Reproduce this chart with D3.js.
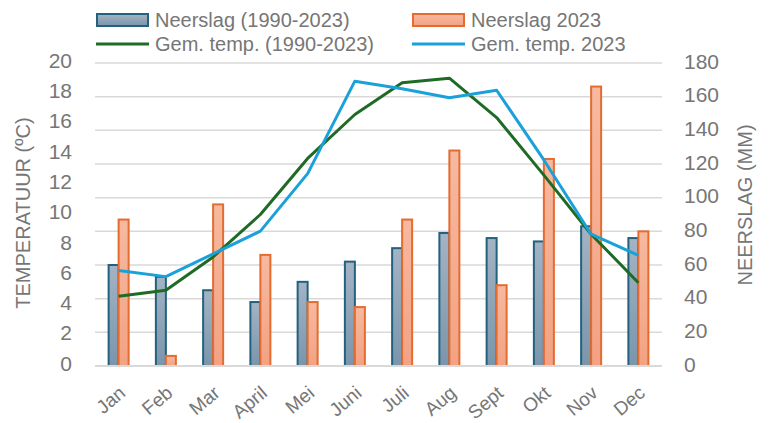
<!DOCTYPE html>
<html>
<head>
<meta charset="utf-8">
<script src="https://cdn.jsdelivr.net/npm/d3@7"></script>
<style>
  body { margin: 0; background: #fff; }
  text { font-family: "Liberation Sans", Arial, sans-serif; }
</style>
</head>
<body>
<div id="plot"></div>
<script>
// Data
const months = ["Jan", "Feb", "Mar", "April", "Mei", "Juni", "Juli", "Aug", "Sept", "Okt", "Nov", "Dec"];
const rainAvg = [60, 53, 45, 38, 50, 62, 70, 79, 76, 74, 83, 76];
const rain2023 = [87, 6, 96, 66, 38, 35, 87, 128, 48, 123, 166, 80];
const tempAvg = [4.6, 5.0, 7.2, 10.0, 13.7, 16.6, 18.7, 19.0, 16.4, 12.6, 8.7, 5.5];
const temp2023 = [6.3, 5.9, 7.4, 8.9, 12.7, 18.8, 18.3, 17.7, 18.2, 13.6, 8.7, 7.3];
const tempTicks = [0, 2, 4, 6, 8, 10, 12, 14, 16, 18, 20];
const rainTicks = [0, 20, 40, 60, 80, 100, 120, 140, 160, 180];

const W = 769, H = 423;
const margin = { top: 63, right: 107, bottom: 57, left: 95 };
const width = W - margin.left - margin.right,
      height = H - margin.top - margin.bottom;

const svg = d3.select("#plot").append("svg")
  .attr("width", W)
  .attr("height", H);

const defs = svg.append("defs");
const gBlue = defs.append("linearGradient").attr("id", "gBlue").attr("x1", 0).attr("y1", 0).attr("x2", 0).attr("y2", 1);
gBlue.append("stop").attr("offset", "0%").attr("stop-color", "#a3b4c4");
gBlue.append("stop").attr("offset", "100%").attr("stop-color", "#7a95ab");
const gOrange = defs.append("linearGradient").attr("id", "gOrange").attr("x1", 0).attr("y1", 0).attr("x2", 0).attr("y2", 1);
gOrange.append("stop").attr("offset", "0%").attr("stop-color", "#f6b9a0");
gOrange.append("stop").attr("offset", "100%").attr("stop-color", "#f3a283");

const plot = svg.append("g")
  .attr("transform", `translate(${margin.left}, ${margin.top})`);

// Scales
const x = d3.scaleBand().domain(months).range([0, width]);
const yT = d3.scaleLinear().domain([0, 20]).range([height, 0]);
const yR = d3.scaleLinear().domain([0, 180]).range([height, 0]);
const barW = 10;

// Gridlines (right axis)
plot.append("g")
  .selectAll("line")
  .data(rainTicks)
  .join("line")
  .attr("x1", 0).attr("x2", width)
  .attr("y1", d => yR(d)).attr("y2", d => yR(d))
  .attr("stroke", "#d9d9d9")
  .attr("stroke-width", 1.5);

// Left axis
const axL = plot.append("g")
  .call(d3.axisLeft(yT).tickValues(tempTicks).tickSize(0).tickPadding(23));
axL.select(".domain").remove();
axL.selectAll("text").attr("fill", "#767676").attr("dy", "0.2em").style("font-size", "21px");

// Right axis
const axR = plot.append("g")
  .attr("transform", `translate(${width}, 0)`)
  .call(d3.axisRight(yR).tickValues(rainTicks).tickSize(0).tickPadding(22));
axR.select(".domain").remove();
axR.selectAll("text").attr("fill", "#767676").attr("dy", "0.25em").style("font-size", "21px");

// Bars
plot.append("g").selectAll("rect")
  .data(months)
  .join("rect")
  .attr("x", (d, i) => x(d) + x.bandwidth() / 2 - barW)
  .attr("y", (d, i) => yR(rainAvg[i]))
  .attr("width", barW)
  .attr("height", (d, i) => height - yR(rainAvg[i]))
  .attr("fill", "url(#gBlue)")
  .attr("stroke", "#23617f")
  .attr("stroke-width", 2);

plot.append("g").selectAll("rect")
  .data(months)
  .join("rect")
  .attr("x", (d, i) => x(d) + x.bandwidth() / 2)
  .attr("y", (d, i) => yR(rain2023[i]))
  .attr("width", barW)
  .attr("height", (d, i) => height - yR(rain2023[i]))
  .attr("fill", "url(#gOrange)")
  .attr("stroke", "#e46c2f")
  .attr("stroke-width", 2);

// Bottom axis line
plot.append("line")
  .attr("x1", 0).attr("x2", width)
  .attr("y1", height).attr("y2", height)
  .attr("stroke", "#d9d9d9").attr("stroke-width", 2);

// Lines
const line = arr => d3.line()
  .x((d, i) => x(months[i]) + x.bandwidth() / 2)
  .y(d => yT(d))(arr);

plot.append("path")
  .attr("d", line(tempAvg))
  .attr("fill", "none")
  .attr("stroke", "#1f6b25")
  .attr("stroke-width", 3)
  .attr("stroke-linejoin", "round");

plot.append("path")
  .attr("d", line(temp2023))
  .attr("fill", "none")
  .attr("stroke", "#1ba1d9")
  .attr("stroke-width", 3)
  .attr("stroke-linejoin", "round");

// Month labels, rotated
plot.append("g").selectAll("text")
  .data(months)
  .join("text")
  .attr("transform", d => `translate(${x(d) + x.bandwidth() / 2 + 8}, ${height + 29}) rotate(-40)`)
  .attr("text-anchor", "end")
  .attr("fill", "#767676")
  .style("font-size", "19px")
  .text(d => d);

// Axis titles
svg.append("text")
  .attr("transform", `translate(30, 213) rotate(-90)`)
  .attr("text-anchor", "middle")
  .attr("fill", "#767676")
  .style("font-size", "20px")
  .text("TEMPERATUUR (ºC)");

svg.append("text")
  .attr("transform", `translate(752, 205) rotate(-90)`)
  .attr("text-anchor", "middle")
  .attr("fill", "#767676")
  .style("font-size", "20px")
  .text("NEERSLAG (MM)");

// Legend
const legend = [
  { label: "Neerslag (1990-2023)", type: "bar", fill: "url(#gBlue)", stroke: "#23617f", x: 96, y: 20 },
  { label: "Neerslag 2023", type: "bar", fill: "url(#gOrange)", stroke: "#e46c2f", x: 412, y: 20 },
  { label: "Gem. temp. (1990-2023)", type: "line", stroke: "#1f6b25", x: 96, y: 44 },
  { label: "Gem. temp. 2023", type: "line", stroke: "#1ba1d9", x: 412, y: 44 }
];
const lg = svg.append("g").selectAll("g").data(legend).join("g")
  .attr("transform", d => `translate(${d.x}, ${d.y})`);
lg.filter(d => d.type === "bar").append("rect")
  .attr("x", 1).attr("y", -6).attr("width", 51).attr("height", 12)
  .attr("fill", d => d.fill).attr("stroke", d => d.stroke).attr("stroke-width", 2);
lg.filter(d => d.type === "line").append("line")
  .attr("x1", 0).attr("x2", 53).attr("y1", 0).attr("y2", 0)
  .attr("stroke", d => d.stroke).attr("stroke-width", 3);
lg.append("text")
  .attr("x", 59).attr("y", 0).attr("dy", "0.35em")
  .attr("fill", "#767676")
  .style("font-size", "20px")
  .text(d => d.label);
</script>
</body>
</html>
